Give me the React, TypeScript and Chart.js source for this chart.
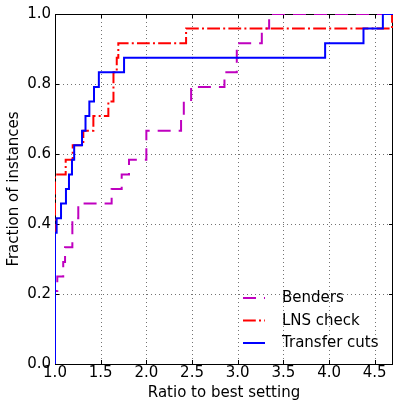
import React, { useEffect, useRef } from 'react';
import { Chart, registerables } from 'chart.js';

Chart.register(...registerables);

// ---- data ----
const TOTAL_INSTANCES = 24;
const seriesNames = ['Benders', 'LNS check', 'Transfer cuts'];
const seriesColors = ['#bf00bf', '#ff0000', '#0000ff'];
const seriesDashes: number[][] = [[13, 8], [12.8, 3.2, 2, 3.2], []];

const xTickValues = [1.0, 1.5, 2.0, 2.5, 3.0, 3.5, 4.0, 4.5];
const yTickValues = [0.0, 0.2, 0.4, 0.6, 0.8, 1.0];

// Benders: ratio where the profile steps, and number of solved instances from there on
const bendersRatio = [1.0, 1.0, 1.025, 1.09, 1.11, 1.19, 1.255, 1.62, 1.73, 1.81, 2.0, 2.38, 2.41, 2.49, 2.855, 2.99, 3.264, 3.344, 4.7];
const bendersCount = [0, 5, 6, 7, 8, 10, 11, 12, 13, 14, 16, 17, 18, 19, 20, 22, 23, 24, 24];

// LNS check
const lnsRatio = [1.0, 1.0, 1.117, 1.194, 1.31, 1.42, 1.584, 1.64, 1.676, 1.693, 2.435, 4.69, 4.7];
const lnsCount = [0, 13, 14, 15, 16, 17, 18, 20, 21, 22, 23, 24, 24];

// Transfer cuts
const transferRatio = [1.0, 1.0, 1.018, 1.066, 1.12, 1.153, 1.186, 1.21, 1.296, 1.334, 1.376, 1.427, 1.48, 1.756, 3.957, 4.377, 4.589, 4.7];
const transferCount = [0, 9, 10, 11, 12, 13, 14, 15, 16, 17, 18, 19, 20, 21, 22, 23, 24, 24];

const X_MIN = 1.0;
const X_MAX = 4.7;
const Y_MIN = 0;
const Y_MAX = 1;

const FONT = '"DejaVu Sans", "Liberation Sans", sans-serif';

const toPoints = (xs: number[], counts: number[]) =>
  xs.map((v, i) => ({ x: v, y: counts[i] / TOTAL_INSTANCES }));

const frameGridPlugin = {
  id: 'frameGrid',
  beforeDatasetsDraw(chart: any) {
    const { ctx, chartArea, scales } = chart;
    const { left, right, top, bottom } = chartArea;
    const xs = scales.x;
    const ys = scales.y;
    ctx.save();
    // dotted grid
    ctx.strokeStyle = 'rgba(0,0,0,0.55)';
    ctx.lineWidth = 1;
    ctx.setLineDash([1, 3]);
    xTickValues.forEach((v) => {
      const px = Math.round(xs.getPixelForValue(v)) + 0.5;
      ctx.beginPath();
      ctx.moveTo(px, top);
      ctx.lineTo(px, bottom);
      ctx.stroke();
    });
    yTickValues.forEach((v) => {
      const py = Math.round(ys.getPixelForValue(v)) + 0.5;
      ctx.beginPath();
      ctx.moveTo(left, py);
      ctx.lineTo(right, py);
      ctx.stroke();
    });
    ctx.setLineDash([]);
    // inward ticks on all sides
    ctx.strokeStyle = '#000';
    const TL = 4;
    xTickValues.forEach((v) => {
      const px = Math.round(xs.getPixelForValue(v)) + 0.5;
      ctx.beginPath();
      ctx.moveTo(px, bottom);
      ctx.lineTo(px, bottom - TL);
      ctx.moveTo(px, top);
      ctx.lineTo(px, top + TL);
      ctx.stroke();
    });
    yTickValues.forEach((v) => {
      const py = Math.round(ys.getPixelForValue(v)) + 0.5;
      ctx.beginPath();
      ctx.moveTo(left, py);
      ctx.lineTo(left + TL, py);
      ctx.moveTo(right, py);
      ctx.lineTo(right - TL, py);
      ctx.stroke();
    });
    // frame
    ctx.beginPath();
    ctx.rect(left + 0.5, top + 0.5, right - left - 1, bottom - top);
    ctx.stroke();
    ctx.restore();
  },
};

const legendPlugin = {
  id: 'insideLegend',
  afterDatasetsDraw(chart: any) {
    const { ctx, chartArea } = chart;
    const { right, bottom } = chartArea;
    ctx.save();
    ctx.font = `15px ${FONT}`;
    ctx.textBaseline = 'middle';
    ctx.textAlign = 'left';
    const rowH = 22.5;
    const firstY = bottom - 66;
    seriesNames.forEach((name, i) => {
      const y = firstY + i * rowH;
      ctx.strokeStyle = seriesColors[i];
      ctx.lineWidth = 2;
      ctx.lineCap = 'butt';
      ctx.setLineDash(seriesDashes[i]);
      ctx.beginPath();
      ctx.moveTo(right - 150, y);
      ctx.lineTo(right - 128, y);
      ctx.stroke();
      ctx.setLineDash([]);
      ctx.fillStyle = '#000';
      ctx.fillText(name, right - 111, y + 0.5);
    });
    ctx.restore();
  },
};

export default function App() {
  const canvasRef = useRef<HTMLCanvasElement | null>(null);

  useEffect(() => {
    const canvas = canvasRef.current;
    if (!canvas) return;
    const series = [
      toPoints(bendersRatio, bendersCount),
      toPoints(lnsRatio, lnsCount),
      toPoints(transferRatio, transferCount),
    ];
    const chart = new Chart(canvas, {
      type: 'line',
      data: {
        datasets: series.map((pts, i) => ({
          label: seriesNames[i],
          data: pts,
          borderColor: seriesColors[i],
          backgroundColor: seriesColors[i],
          borderWidth: 2,
          borderDash: seriesDashes[i],
          borderCapStyle: 'butt',
          borderJoinStyle: 'miter',
          stepped: 'before',
          pointRadius: 0,
          fill: false,
          order: 3 - i,
        })),
      },
      options: {
        animation: false,
        responsive: false,
        devicePixelRatio: 1,
        layout: { padding: { top: 14, right: 1, left: 0, bottom: 0 } },
        plugins: {
          legend: { display: false },
          tooltip: { enabled: false },
        },
        scales: {
          x: {
            type: 'linear',
            min: X_MIN,
            max: X_MAX,
            grid: { display: false, drawTicks: false },
            border: { display: false },
            afterBuildTicks: (scale: any) => {
              scale.ticks = xTickValues.map((v) => ({ value: v }));
            },
            afterFit: (scale: any) => {
              scale.height = 38;
            },
            ticks: {
              padding: 0,
              color: '#000',
              maxRotation: 0,
              autoSkip: false,
              font: { family: FONT, size: 15, lineHeight: 1.2 },
              callback: (v: any) => Number(v).toFixed(1),
            },
            title: {
              display: true,
              text: 'Ratio to best setting',
              color: '#000',
              font: { family: FONT, size: 15, lineHeight: 1.2 },
              padding: { top: 0, bottom: 0 },
            },
          },
          y: {
            type: 'linear',
            min: Y_MIN,
            max: Y_MAX,
            grid: { display: false, drawTicks: false },
            border: { display: false },
            afterBuildTicks: (scale: any) => {
              scale.ticks = yTickValues.map((v) => ({ value: v }));
            },
            afterFit: (scale: any) => {
              scale.width = 55;
            },
            ticks: {
              padding: 4,
              color: '#000',
              autoSkip: false,
              font: { family: FONT, size: 15, lineHeight: 1.2 },
              callback: (v: any) => Number(v).toFixed(1),
            },
            title: {
              display: true,
              text: 'Fraction of instances',
              color: '#000',
              font: { family: FONT, size: 15, lineHeight: 1.2 },
              padding: { top: 5, bottom: 0 },
            },
          },
        },
      } as any,
      plugins: [frameGridPlugin, legendPlugin],
    });
    return () => chart.destroy();
  }, []);

  return (
    <div style={{ position: 'absolute', left: 0, top: 0, width: 394, height: 402, background: '#fff' }}>
      <canvas ref={canvasRef} width={394} height={402} style={{ display: 'block', width: 394, height: 402 }} />
    </div>
  );
}
